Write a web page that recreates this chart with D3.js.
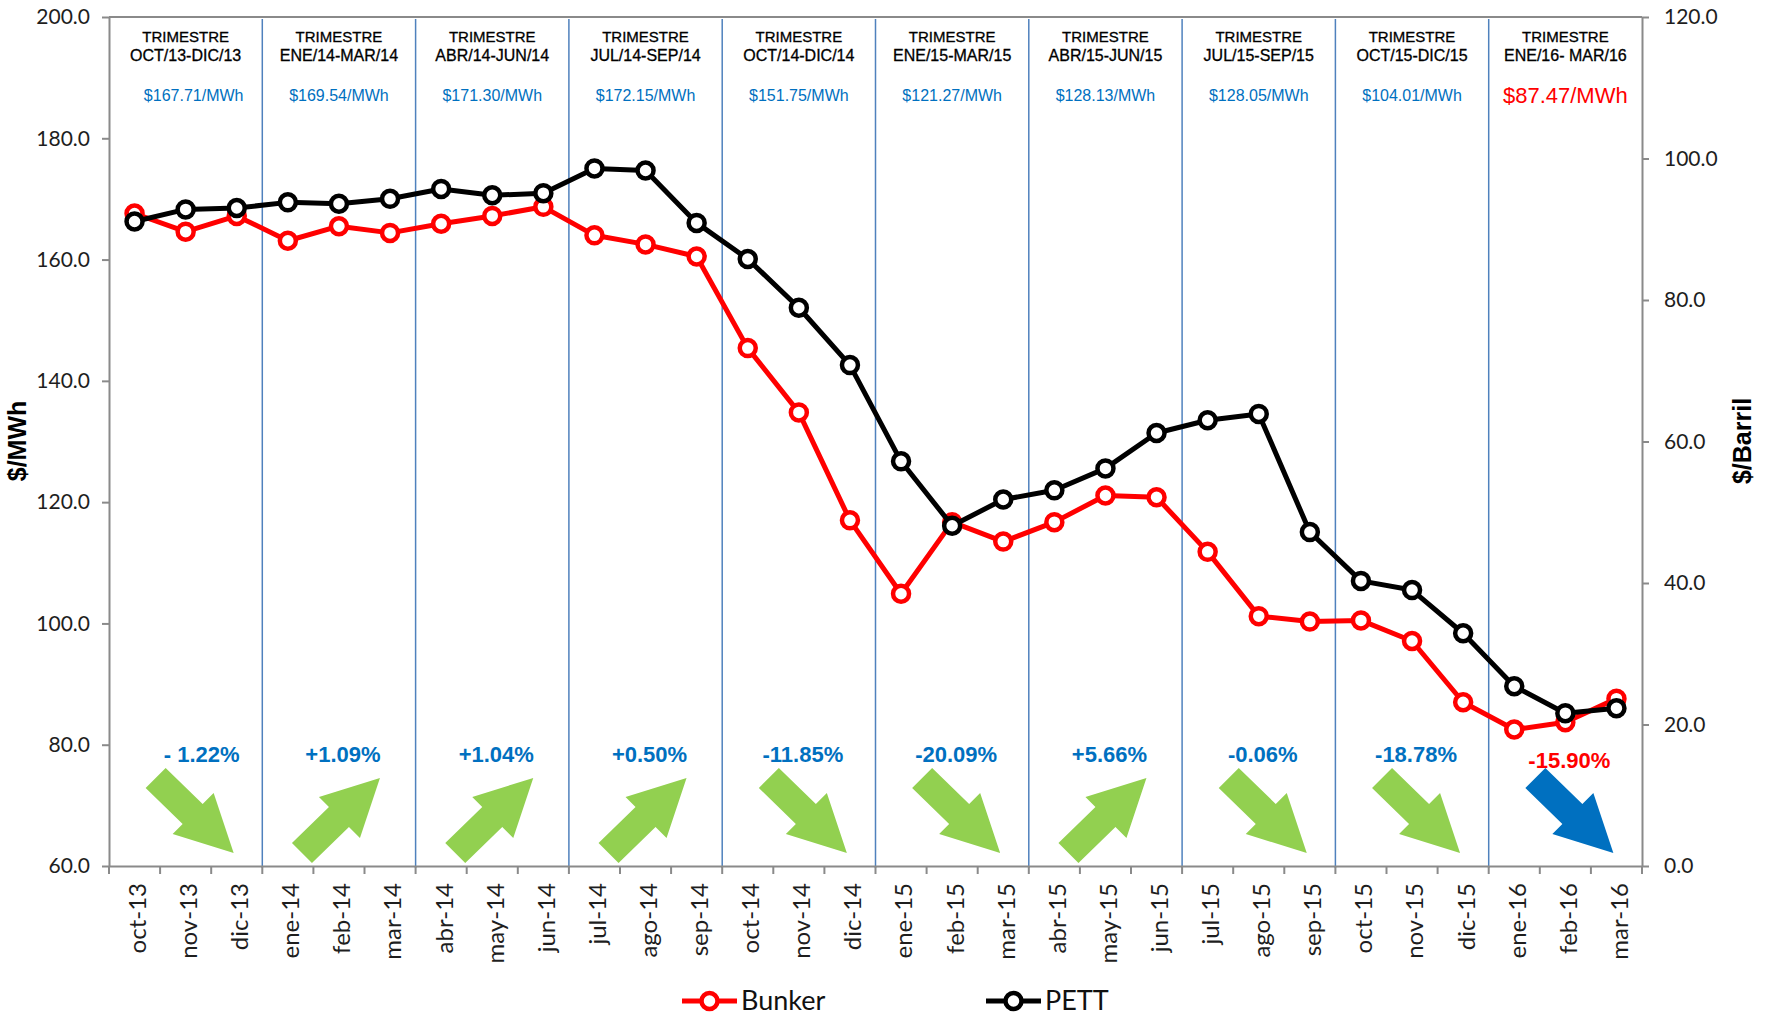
<!DOCTYPE html>
<html>
<head>
<meta charset="utf-8">
<script src="https://cdn.jsdelivr.net/npm/d3@7"></script>
<style>
	body { margin: 0; background: #fff; }
	svg { display: block; }
	.axis .domain, .axis .tick line { stroke: #8a8a8a; stroke-width: 2; }
	.axis text { font-family: Lato, 'Open Sans', sans-serif; fill: #1e1e1e; }
</style>
</head>
<body>
<script>
var months = ['oct-13', 'nov-13', 'dic-13', 'ene-14', 'feb-14', 'mar-14', 'abr-14', 'may-14', 'jun-14',
	'jul-14', 'ago-14', 'sep-14', 'oct-14', 'nov-14', 'dic-14', 'ene-15', 'feb-15', 'mar-15',
	'abr-15', 'may-15', 'jun-15', 'jul-15', 'ago-15', 'sep-15', 'oct-15', 'nov-15', 'dic-15',
	'ene-16', 'feb-16', 'mar-16'];

// $/MWh (left axis)
var bunker = [167.6, 164.6, 167.2, 163.1, 165.5, 164.4, 165.9, 167.2, 168.7,
	164.0, 162.5, 160.5, 145.4, 134.8, 117.0, 104.9, 116.7, 113.5,
	116.7, 121.1, 120.8, 111.8, 101.2, 100.3, 100.5, 97.1, 87.0,
	82.5, 83.7, 87.6];

// $/Barril (right axis)
var pett = [91.1, 92.8, 93.0, 93.8, 93.6, 94.3, 95.7, 94.8, 95.1,
	98.6, 98.3, 90.9, 85.8, 78.9, 70.8, 57.2, 48.1, 51.8,
	53.1, 56.2, 61.2, 63.0, 63.9, 47.2, 40.3, 39.0, 32.9,
	25.4, 21.6, 22.3];

var leftTicks = [60, 80, 100, 120, 140, 160, 180, 200];
var rightTicks = [0, 20, 40, 60, 80, 100, 120];

var quarterNames = ['OCT/13-DIC/13', 'ENE/14-MAR/14', 'ABR/14-JUN/14', 'JUL/14-SEP/14', 'OCT/14-DIC/14',
	'ENE/15-MAR/15', 'ABR/15-JUN/15', 'JUL/15-SEP/15', 'OCT/15-DIC/15', 'ENE/16- MAR/16'];
var quarterPrices = ['$167.71/MWh', '$169.54/MWh', '$171.30/MWh', '$172.15/MWh', '$151.75/MWh',
	'$121.27/MWh', '$128.13/MWh', '$128.05/MWh', '$104.01/MWh', '$87.47/MWh'];
var quarterChanges = ['- 1.22%', '+1.09%', '+1.04%', '+0.50%', '-11.85%',
	'-20.09%', '+5.66%', '-0.06%', '-18.78%', '-15.90%'];

var width = 1771, height = 1016;
var plotLeft = 109, plotRight = 1642, plotTop = 17, plotBottom = 866;
var blue = '#0070c0', red = '#ff0000', green = '#92d050';

var svg = d3.select('body')
	.append('svg')
	.attr('width', width)
	.attr('height', height);

var x = d3.scaleBand().domain(months).range([plotLeft, plotRight]);
var yLeft = d3.scaleLinear().domain([60, 200]).range([plotBottom, plotTop]);
var yRight = d3.scaleLinear().domain([0, 120]).range([plotBottom, plotTop]);
var bw = x.bandwidth();

function cx(i) {
	return x(months[i]) + bw / 2;
}

// quarter separators
var lastQ = quarterNames.length - 1;
svg.selectAll('.qline')
	.data(d3.range(1, quarterNames.length))
	.enter()
	.append('line')
	.attr('class', 'qline')
	.attr('x1', function(q) { return x(months[q * 3]); })
	.attr('x2', function(q) { return x(months[q * 3]); })
	.attr('y1', plotTop + 2)
	.attr('y2', plotBottom + 2)
	.attr('stroke', '#4f81bd')
	.attr('stroke-width', 1.5);

// top border
svg.append('line')
	.attr('x1', plotLeft).attr('x2', plotRight)
	.attr('y1', plotTop).attr('y2', plotTop)
	.attr('stroke', '#8a8a8a')
	.attr('stroke-width', 2);

// axes
var gLeft = svg.append('g')
	.attr('class', 'axis')
	.attr('transform', 'translate(' + plotLeft + ',0)')
	.call(d3.axisLeft(yLeft).tickValues(leftTicks).tickFormat(d3.format('.1f'))
		.tickSize(7).tickSizeOuter(0).tickPadding(12));
gLeft.selectAll('text').style('font-size', '21px');

var gRight = svg.append('g')
	.attr('class', 'axis')
	.attr('transform', 'translate(' + plotRight + ',0)')
	.call(d3.axisRight(yRight).tickValues(rightTicks).tickFormat(d3.format('.1f'))
		.tickSize(7).tickSizeOuter(0).tickPadding(15));
gRight.selectAll('text').style('font-size', '21px');

var gBottom = svg.append('g')
	.attr('class', 'axis')
	.attr('transform', 'translate(0,' + plotBottom + ')')
	.call(d3.axisBottom(x).tickSize(0).tickSizeOuter(0));
gBottom.selectAll('text')
	.style('font-size', '24px')
	.style('text-anchor', 'end')
	.attr('transform', 'rotate(-90)')
	.attr('x', -17)
	.attr('y', 3)
	.attr('dy', '0.35em');

gBottom.selectAll('.sep')
	.data(d3.range(months.length + 1))
	.enter()
	.append('line')
	.attr('class', 'sep')
	.attr('x1', function(i) { return i < months.length ? x(months[i]) : plotRight; })
	.attr('x2', function(i) { return i < months.length ? x(months[i]) : plotRight; })
	.attr('y1', 0)
	.attr('y2', 8)
	.attr('stroke', '#8a8a8a')
	.attr('stroke-width', 2);

// axis titles
svg.append('text')
	.attr('transform', 'translate(26,441) rotate(-90)')
	.attr('text-anchor', 'middle')
	.style('font-family', 'Liberation Sans, Arial, sans-serif')
	.style('font-weight', 'bold')
	.style('font-size', '25px')
	.text('$/MWh');

svg.append('text')
	.attr('transform', 'translate(1751,441) rotate(-90)')
	.attr('text-anchor', 'middle')
	.style('font-family', 'Liberation Sans, Arial, sans-serif')
	.style('font-weight', 'bold')
	.style('font-size', '25px')
	.text('$/Barril');

// quarter headers
var qx = function(q) { return cx(q * 3 + 1); };

svg.selectAll('.qtitle')
	.data(quarterNames)
	.enter()
	.append('text')
	.attr('class', 'qtitle')
	.attr('x', function(d, q) { return qx(q); })
	.attr('y', 42)
	.attr('text-anchor', 'middle')
	.style('font-family', 'Liberation Sans, Arial, sans-serif')
	.style('font-size', '15px')
	.style('fill', '#000')
	.style('stroke', '#000')
	.style('stroke-width', 0.3)
	.text('TRIMESTRE');

svg.selectAll('.qname')
	.data(quarterNames)
	.enter()
	.append('text')
	.attr('class', 'qname')
	.attr('x', function(d, q) { return qx(q); })
	.attr('y', 61)
	.attr('text-anchor', 'middle')
	.style('font-family', 'Liberation Sans, Arial, sans-serif')
	.style('font-size', '16px')
	.style('fill', '#000')
	.style('stroke', '#000')
	.style('stroke-width', 0.3)
	.text(function(d) { return d; });

svg.selectAll('.qprice')
	.data(quarterPrices)
	.enter()
	.append('text')
	.attr('class', 'qprice')
	.attr('x', function(d, q) { return qx(q) + (q === 0 ? 8 : 0); })
	.attr('y', function(d, q) { return q === lastQ ? 103 : 101; })
	.attr('text-anchor', 'middle')
	.style('font-family', 'Liberation Sans, Arial, sans-serif')
	.style('font-size', function(d, q) { return q === lastQ ? '22px' : '16px'; })
	.style('fill', function(d, q) { return q === lastQ ? red : blue; })
	.text(function(d) { return d; });

// change labels and arrows
svg.selectAll('.qchange')
	.data(quarterChanges)
	.enter()
	.append('text')
	.attr('class', 'qchange')
	.attr('x', function(d, q) { return qx(q) + (q === 0 ? 16 : 4); })
	.attr('y', function(d, q) { return q === lastQ ? 768 : 762; })
	.attr('text-anchor', 'middle')
	.style('font-family', 'Liberation Sans, Arial, sans-serif')
	.style('font-weight', 'bold')
	.style('font-size', '22px')
	.style('fill', function(d, q) { return q === lastQ ? red : blue; })
	.text(function(d) { return d; });

var arrowPath = 'M0,20L20,0L57,36L68,25L88,85L27,66L37,56Z';

svg.selectAll('.arrow')
	.data(quarterChanges)
	.enter()
	.append('path')
	.attr('class', 'arrow')
	.attr('d', arrowPath)
	.attr('transform', function(d, q) {
		var up = d.charAt(0) === '+';
		var tx = qx(q) - 44 + (up ? -3 : 4);
		return up ? 'translate(' + tx + ',863) scale(1,-1)' : 'translate(' + tx + ',768)';
	})
	.attr('fill', function(d, q) { return q === lastQ ? blue : green; });

// series
var series = [
	{ name: 'Bunker', values: bunker, y: yLeft, color: red },
	{ name: 'PETT', values: pett, y: yRight, color: '#000' }
];

series.forEach(function(s) {
	var line = d3.line()
		.x(function(d, i) { return cx(i); })
		.y(function(d) { return s.y(d); });

	svg.append('path')
		.datum(s.values)
		.attr('d', line)
		.attr('fill', 'none')
		.attr('stroke', s.color)
		.attr('stroke-width', 5)
		.attr('stroke-linejoin', 'round');

	svg.append('g')
		.selectAll('circle')
		.data(s.values)
		.enter()
		.append('circle')
		.attr('cx', function(d, i) { return cx(i); })
		.attr('cy', function(d) { return s.y(d); })
		.attr('r', 8)
		.attr('fill', '#fff')
		.attr('stroke', s.color)
		.attr('stroke-width', 4.5);
});

// legend
var legend = svg.selectAll('.legend')
	.data(series)
	.enter()
	.append('g')
	.attr('class', 'legend')
	.attr('transform', function(d, i) { return 'translate(' + (682 + i * 304) + ',1001)'; });

legend.append('line')
	.attr('x1', 0).attr('x2', 55)
	.attr('stroke', function(d) { return d.color; })
	.attr('stroke-width', 5);

legend.append('circle')
	.attr('cx', 27.5)
	.attr('r', 8)
	.attr('fill', '#fff')
	.attr('stroke', function(d) { return d.color; })
	.attr('stroke-width', 4.5);

legend.append('text')
	.attr('x', 59)
	.attr('y', 9)
	.style('font-family', 'Lato, sans-serif')
	.style('font-size', '27px')
	.style('fill', '#111')
	.text(function(d) { return d.name; });
</script>
</body>
</html>
